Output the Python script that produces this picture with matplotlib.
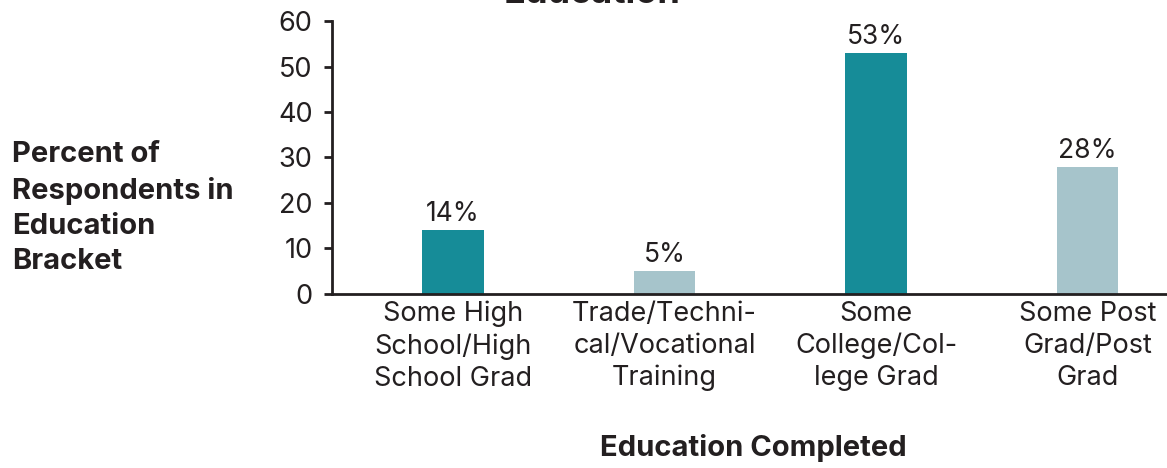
import matplotlib.pyplot as plt

plt.rcParams['font.family'] = ['Inter', 'DejaVu Sans']

categories = ["Some High\nSchool/High\nSchool Grad",
              "Trade/Techni-\ncal/Vocational\nTraining",
              "Some\nCollege/Col-\nlege Grad",
              "Some Post\nGrad/Post\nGrad"]
percents = [14, 5, 53, 28]
y_ticks = [0, 10, 20, 30, 40, 50, 60]

DARK_TEAL = "#168c98"
LIGHT_TEAL = "#a6c4cb"
INK = "#231f20"
bar_colors = [DARK_TEAL, LIGHT_TEAL, DARK_TEAL, LIGHT_TEAL]

fig = plt.figure(figsize=(11.67, 4.68), dpi=100)
ax = fig.add_axes([0.2845, 0.372, 0.7155, 0.583])

x = list(range(len(categories)))
bars = ax.bar(x, percents, width=0.29, color=bar_colors)
for rect, val in zip(bars, percents):
    ax.annotate(f"{val}%", (rect.get_x() + rect.get_width() / 2, val),
                xytext=(0, 2), textcoords="offset points",
                ha="center", va="bottom", fontsize=19, color=INK)

ax.set_xlim(-0.572, 3.376)
ax.set_ylim(0, 60)
ax.set_yticks(y_ticks)
ax.set_xticks(x)
ax.set_xticklabels(categories, linespacing=1.3)
ax.tick_params(axis="x", length=0, pad=5, labelsize=19.5, colors=INK)
ax.tick_params(axis="y", length=6, width=2, pad=8, labelsize=19.5,
               colors=INK, direction="out")

for side in ("top", "right"):
    ax.spines[side].set_visible(False)
for side in ("left", "bottom"):
    ax.spines[side].set_linewidth(2)
    ax.spines[side].set_color(INK)

# axis titles and the heading
fig.text(12 / 1167, 1 - 208 / 468,
         "Percent of\nRespondents in\nEducation\nBracket",
         ha="left", va="center", fontsize=21, fontweight="bold",
         color=INK, linespacing=1.38)
fig.text(753 / 1167, 1 - 448 / 468, "Education Completed",
         ha="center", va="center", fontsize=21, fontweight="bold", color=INK)
fig.text(592 / 1167, 1 - 3 / 468, "Education",
         ha="center", va="baseline", fontsize=26, fontweight="bold", color=INK)

fig.savefig("out.png", dpi=100)
